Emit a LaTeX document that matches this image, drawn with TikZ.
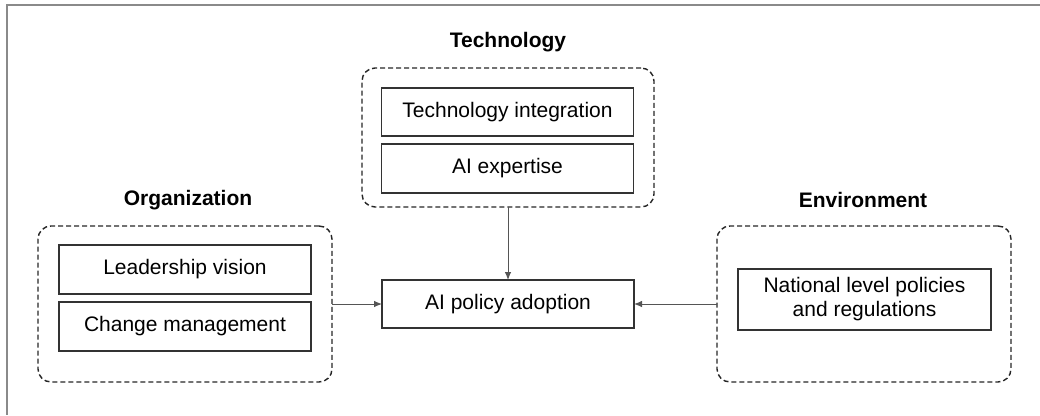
\documentclass[tikz,border=0pt]{standalone}
\usepackage{fontspec}
\setmainfont{Liberation Sans}
\usetikzlibrary{arrows.meta}
\definecolor{framegray}{HTML}{8A8A8A}
\definecolor{boxline}{HTML}{333333}
\definecolor{arrowgray}{HTML}{555555}
\begin{document}
\begin{tikzpicture}[x=1pt,y=-1pt,
  factor/.style={draw=boxline, line width=1.4pt, inner sep=0pt, outer sep=0pt,
    minimum width=252pt, font=\fontsize{21}{24}\selectfont, align=center},
  group/.style={draw=black!85, line width=1.4pt, dash pattern=on 5pt off 3pt,
    rounded corners=13pt, inner sep=0pt, outer sep=0pt},
  grouptitle/.style={font=\fontsize{21}{24}\selectfont\bfseries},
  link/.style={draw=arrowgray, line width=0.9pt,
    -{Latex[length=8pt,width=6.5pt]}}]
  \useasboundingbox (0,0) rectangle (1040,415);
  % partial outer frame
  \coordinate (frameTR) at (1040,4.5);
  \coordinate (frameTL) at (6.5,4.5);
  \coordinate (frameBL) at (6.5,415);
  \draw[framegray, line width=2pt] (frameTR) -- (frameTL) -- (frameBL);

  % Technology
  \node[grouptitle] (techlabel) at (508,42) {Technology};
  \node[group, minimum width=292pt, minimum height=139pt] (techgrp) at (508,137.5) {};
  \node[factor, minimum height=48pt] (tech1) at (507.5,112) {Technology integration};
  \node[factor, minimum height=49pt] (tech2) at (507.5,168.5) {AI expertise};

  % Organization
  \node[grouptitle] (orglabel) at (188,200) {Organization};
  \node[group, minimum width=294pt, minimum height=156pt] (orggrp) at (185,304) {};
  \node[factor, minimum height=49pt] (org1) at (185,269.5) {Leadership vision};
  \node[factor, minimum height=49pt] (org2) at (185,326.5) {Change management};

  % Environment
  \node[grouptitle] (envlabel) at (863,200) {Environment};
  \node[group, minimum width=294pt, minimum height=156pt] (envgrp) at (864,304) {};
  \node[factor, minimum width=253pt, minimum height=61pt] (env1) at (864.5,299.5)
    {National level policies\\and regulations};

  % Outcome
  \node[factor, minimum height=48pt] (adopt) at (508,304) {AI policy adoption};

  % influences
  \draw[link] (techgrp.south) -- (adopt.north);
  \draw[link] (orggrp.east) -- (adopt.west);
  \draw[link] (envgrp.west) -- (adopt.east);
\end{tikzpicture}
\end{document}
